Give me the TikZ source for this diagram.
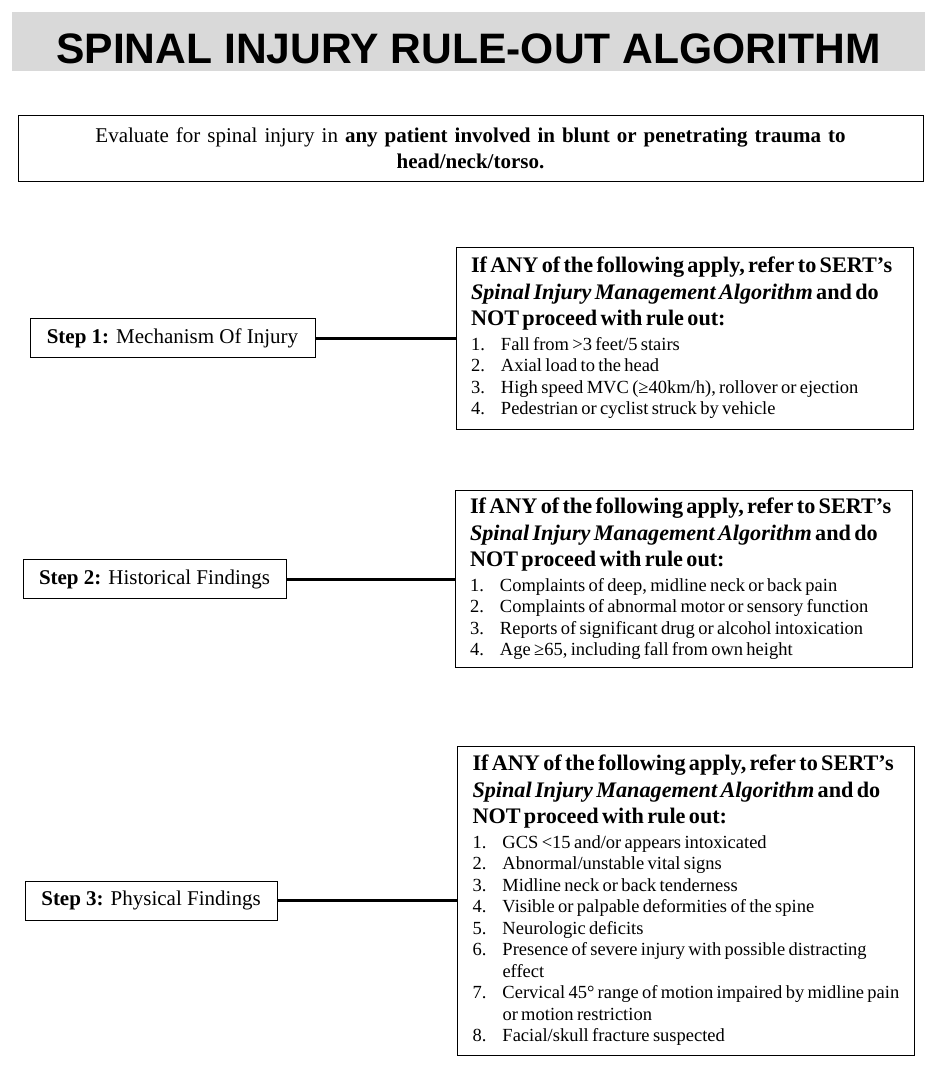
\documentclass[tikz,border=0pt]{standalone}
\usepackage{fontspec}
\setmainfont{Liberation Serif}
\newfontfamily\titlefont{Liberation Sans}
\usetikzlibrary{positioning}
\definecolor{bandgray}{RGB}{217,217,217}

\newcommand{\rulehead}{{\fontsize{22.2}{26.3}\selectfont\bfseries If ANY of the following apply, refer to SERT’s\\ \textit{Spinal Injury Management Algorithm} and do\\ NOT proceed with rule out:\par}\vspace{3.5pt}\fontsize{18.5}{21.5}\selectfont}
\newcommand{\ritem}[2]{\hangindent=30pt\hangafter=1\noindent\makebox[30pt][l]{#1}#2\par}

\begin{document}
\begin{tikzpicture}[x=1pt,y=-1pt,thick,
    banner/.style={fill=bandgray,minimum width=913pt,minimum height=59pt,inner sep=0pt,
      font=\titlefont\fontsize{42.6}{44}\selectfont\bfseries,text height=44pt,text depth=0pt},
    introbox/.style={draw,line width=1pt,minimum width=905pt,minimum height=66pt,
      text width=880pt,align=center,font=\fontsize{21}{26}\selectfont},
    stepbox/.style={draw,line width=1pt,minimum height=39pt,font=\fontsize{21}{25}\selectfont},
    rulebox/.style={draw,line width=1pt,text width=427pt,inner xsep=15pt,inner ysep=8pt,align=left},
    link/.style={line width=3pt}]
      \useasboundingbox (0,0) rectangle (934,1069);
      \node[banner] (title) at (468.5,41.5) {SPINAL INJURY RULE-OUT ALGORITHM};
      \node[introbox] (intro) at (470.5,148) {Evaluate for spinal injury in \textbf{any patient involved in blunt or penetrating trauma to}\\ \textbf{head/neck/torso.}};
      \node[stepbox,minimum width=285pt] (mech) at (172.5,338) {\textbf{Step 1:} Mechanism Of Injury};
      \node[stepbox,minimum width=263pt] (hist) at (154.5,579) {\textbf{Step 2:} Historical Findings};
      \node[stepbox,minimum width=252pt] (phys) at (151,900.5) {\textbf{Step 3:} Physical Findings};
      \node[rulebox,minimum height=182pt] (mechrule) at (684.5,338) {\rulehead
        \ritem{1.}{Fall from >3 feet/5 stairs}
        \ritem{2.}{Axial load to the head}
        \ritem{3.}{High speed MVC (≥40km/h), rollover or ejection}
        \ritem{4.}{Pedestrian or cyclist struck by vehicle}};
      \node[rulebox,minimum height=177pt] (histrule) at (683.5,579) {\rulehead
        \ritem{1.}{Complaints of deep, midline neck or back pain}
        \ritem{2.}{Complaints of abnormal motor or sensory function}
        \ritem{3.}{Reports of significant drug or alcohol intoxication}
        \ritem{4.}{Age ≥65, including fall from own height}};
      \node[rulebox,minimum height=309pt] (physrule) at (686,900.5) {\rulehead
        \ritem{1.}{GCS <15 and/or appears intoxicated}
        \ritem{2.}{Abnormal/unstable vital signs}
        \ritem{3.}{Midline neck or back tenderness}
        \ritem{4.}{Visible or palpable deformities of the spine}
        \ritem{5.}{Neurologic deficits}
        \ritem{6.}{Presence of severe injury with possible distracting\newline effect}
        \ritem{7.}{Cervical 45° range of motion impaired by midline pain\newline or motion restriction}
        \ritem{8.}{Facial/skull fracture suspected}};
      \draw[link] (mech.east) -- (mechrule.west);
      \draw[link] (hist.east) -- (histrule.west);
      \draw[link] (phys.east) -- (physrule.west);
    \end{tikzpicture}
\end{document}
